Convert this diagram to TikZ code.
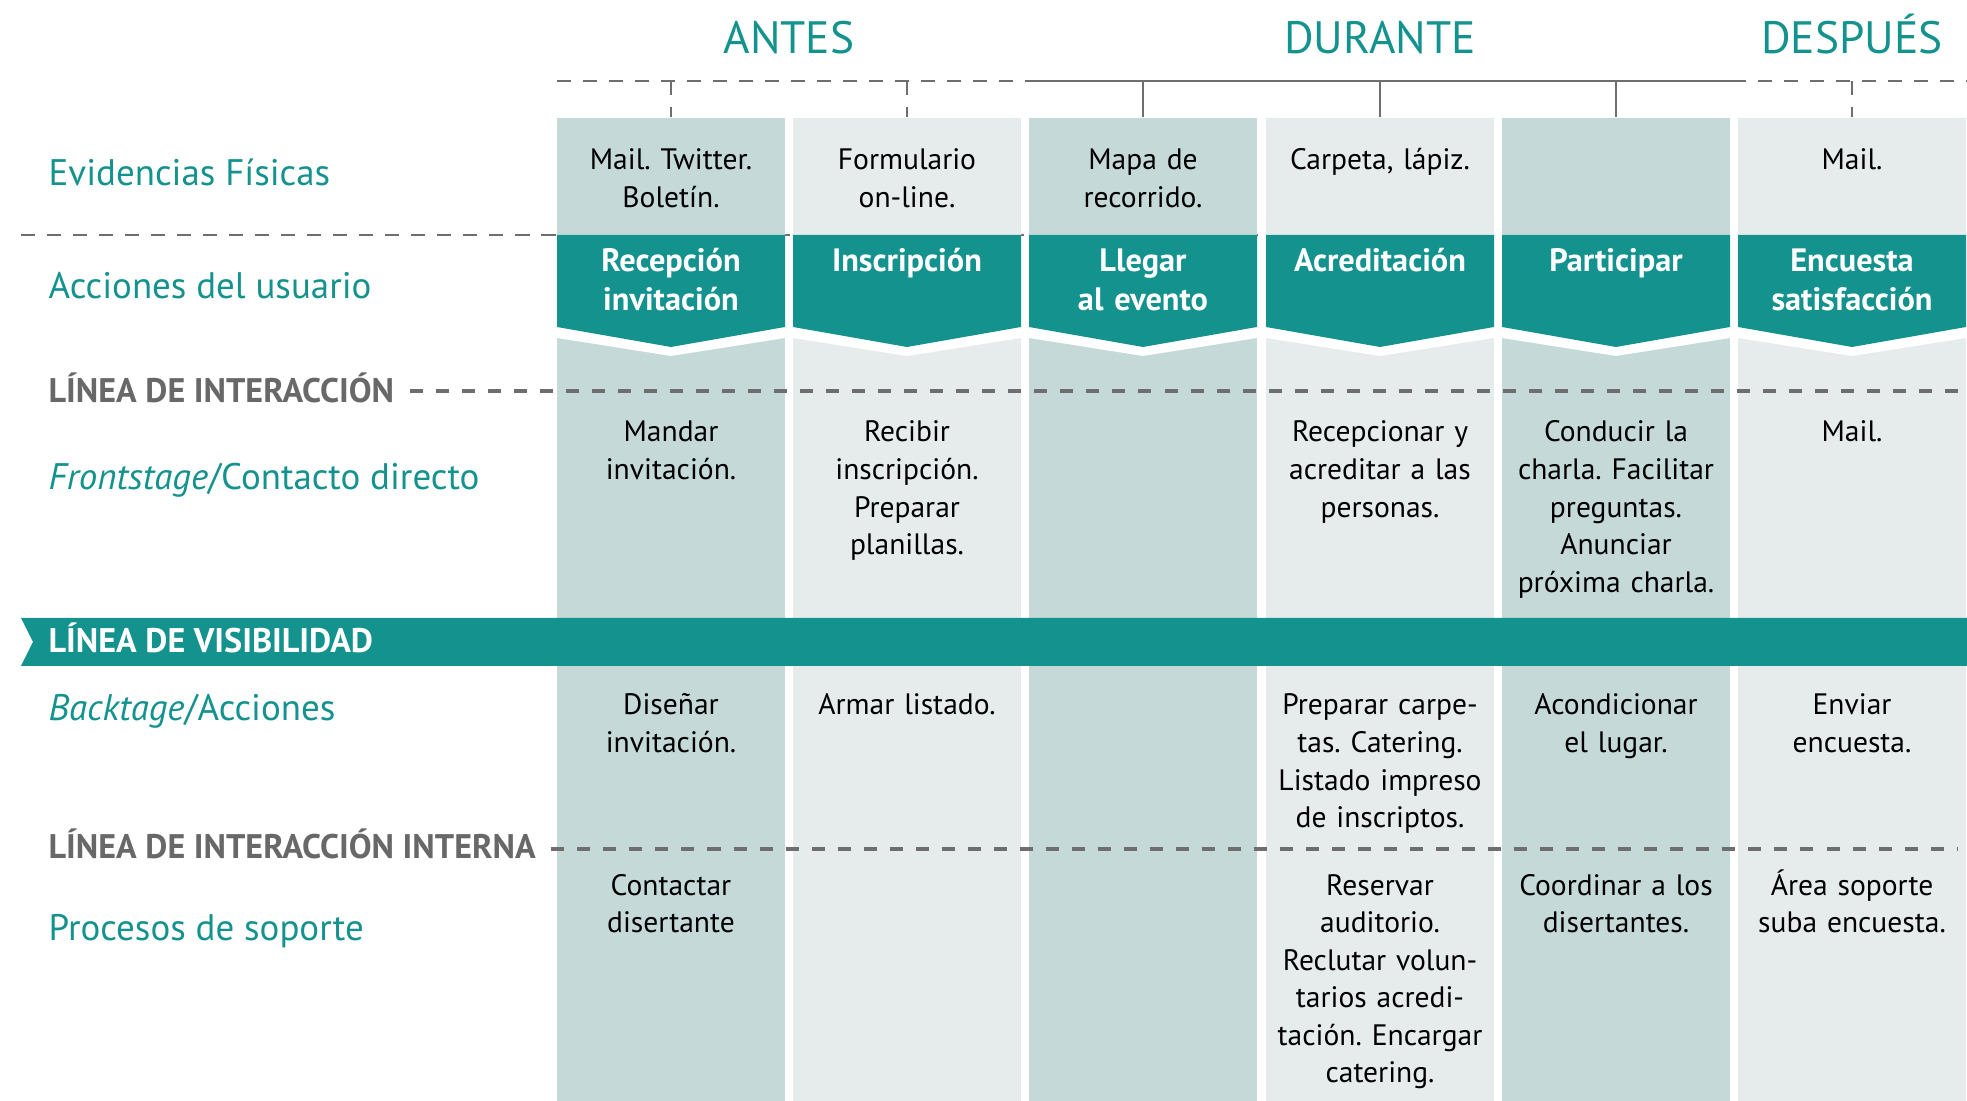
\documentclass[tikz,border=0pt]{standalone}
\usepackage{fontspec}
\setmainfont{PT Sans}
\frenchspacing
\usetikzlibrary{positioning}

\definecolor{tealmain}{RGB}{20,146,142}
\definecolor{coldark}{RGB}{197,217,217}
\definecolor{collight}{RGB}{230,236,236}
\definecolor{linegray}{RGB}{110,110,110}
\definecolor{labelgray}{RGB}{104,104,104}

\tikzset{
  colbox/.style={anchor=north, minimum width=2.28cm, minimum height=9.84cm, inner sep=0pt},
  phase/.style={anchor=base, text=tealmain, inner sep=0pt, font=\fontsize{12.9}{14}\selectfont},
  rowlabel/.style={anchor=base west, text=tealmain, inner sep=0pt, font=\fontsize{10.5}{12}\selectfont},
  linelabel/.style={anchor=base west, text=labelgray, inner sep=0pt, font=\bfseries\fontsize{9.7}{11}\selectfont},
  cell/.style={anchor=base, align=center, text width=2.4cm, inner sep=0pt, font=\fontsize{8.4}{10.67}\selectfont},
  act/.style={anchor=base, align=center, text width=2.4cm, inner sep=0pt, text=white, font=\bfseries\fontsize{9.2}{10.9}\selectfont},
  thindash/.style={draw=linegray, line width=0.6pt, dash pattern=on 4pt off 3.4pt},
  thickdash/.style={draw=linegray, line width=1.3pt, dash pattern=on 3.7pt off 3.7pt},
  tick/.style={draw=linegray, line width=0.6pt}
}

\begin{document}
\begin{tikzpicture}[x=0.01cm, y=-0.01cm]

 \useasboundingbox (0,0) rectangle (1967,1101);

 % separator under the first row, behind the columns
 \path (21,235) coordinate (S0);
 \path (1967,235) coordinate (S1);
 \draw[thindash] (S0) -- (S1);

 \foreach \i/\x/\c in {1/671/coldark,2/907/collight,3/1143/coldark,4/1380/collight,5/1616/coldark,6/1852/collight}
 {
   \node[colbox, fill=\c] (col\i) at (\x,117) {};
   \fill[white] (\x-114,235) -- (\x+114,235) -- (\x+114,338) -- (\x,356) -- (\x-114,338) -- cycle;
   \fill[tealmain] (\x-114,235) -- (\x+114,235) -- (\x+114,327) -- (\x,347) -- (\x-114,327) -- cycle;
   \path (\x,81) coordinate (T\i);
 }

 % time line
 \path (557,81) coordinate (L0);
 \path (1027,81) coordinate (L1);
 \path (1732,81) coordinate (L2);
 \path (1967,81) coordinate (L3);
 \draw[thindash] (L0) -- (L1);
 \draw[tick] (L1) -- (L2);
 \draw[thindash] (L2) -- (L3);
 \foreach \i in {1,2,6}
 {
   \draw[thindash] (T\i) -- (col\i.north);
 }
 \foreach \i in {3,4,5}
 {
   \draw[tick] (T\i) -- (col\i.north);
 }

 \node[phase] (antes) at (789,54) {ANTES};
 \node[phase] (durante) at (1380,54) {DURANTE};
 \node[phase] (despues) at (1852,54) {DESPUÉS};

 % row labels
 \node[rowlabel] (evid) at (48,186) {Evidencias Físicas};
 \node[rowlabel] (accion) at (48,299) {Acciones del usuario};
 \node[linelabel] (inter) at (48,403) {LÍNEA DE INTERACCIÓN};
 \node[rowlabel] (front) at (48,490) {\textit{Frontstage}/Contacto directo};
 \node[rowlabel] (back) at (48,721) {\textit{Backtage}/Acciones};
 \node[linelabel] (interna) at (48,859) {LÍNEA DE INTERACCIÓN INTERNA};
 \node[rowlabel] (soporte) at (48,940) {Procesos de soporte};

 \path (1967,391) coordinate (E1);
 \path (inter.east |- E1) ++(15,0) coordinate (I1);
 \draw[thickdash] (I1) -- (E1);
 \path (1957,849) coordinate (E2);
 \path (interna.east |- E2) ++(15,0) coordinate (I2);
 \draw[thickdash] (I2) -- (E2);

 % line of visibility
 \fill[tealmain] (21,618) -- (1967,618) -- (1967,666) -- (21,666) -- (33,642) -- cycle;
 \node[linelabel, text=white] (visib) at (48,653) {LÍNEA DE VISIBILIDAD};

 % evidencias
 \node[cell] (ev1) at (671,170) {Mail. Twitter.\\Boletín.};
 \node[cell] (ev2) at (907,170) {Formulario\\on-line.};
 \node[cell] (ev3) at (1143,170) {Mapa de\\recorrido.};
 \node[cell] (ev4) at (1380,170) {Carpeta, lápiz.};
 \node[cell] (ev6) at (1852,170) {Mail.};

 % acciones
 \node[act] (ac1) at (671,272) {Recepción\\invitación};
 \node[act] (ac2) at (907,272) {Inscripción};
 \node[act] (ac3) at (1143,272) {Llegar\\al evento};
 \node[act] (ac4) at (1380,272) {Acreditación};
 \node[act] (ac5) at (1616,272) {Participar};
 \node[act] (ac6) at (1852,272) {Encuesta\\satisfacción};

 % frontstage
 \node[cell] (fr1) at (671,442) {Mandar\\invitación.};
 \node[cell] (fr2) at (907,442) {Recibir\\inscripción.\\Preparar\\planillas.};
 \node[cell] (fr4) at (1380,442) {Recepcionar y\\acreditar a las\\personas.};
 \node[cell] (fr5) at (1616,442) {Conducir la\\charla. Facilitar\\preguntas.\\Anunciar\\próxima charla.};
 \node[cell] (fr6) at (1852,442) {Mail.};

 % backstage
 \node[cell] (bk1) at (671,715) {Diseñar\\invitación.};
 \node[cell] (bk2) at (907,715) {Armar listado.};
 \node[cell] (bk4) at (1380,715) {Preparar carpe-\\tas. Catering.\\Listado impreso\\de inscriptos.};
 \node[cell] (bk5) at (1616,715) {Acondicionar\\el lugar.};
 \node[cell] (bk6) at (1852,715) {Enviar\\encuesta.};

 % soporte
 \node[cell] (sp1) at (671,895) {Contactar\\disertante};
 \node[cell] (sp4) at (1380,895) {Reservar\\auditorio.\\Reclutar volun-\\tarios acredi-\\tación. Encargar\\catering.};
 \node[cell] (sp5) at (1616,895) {Coordinar a los\\disertantes.};
 \node[cell] (sp6) at (1852,895) {Área soporte\\suba encuesta.};

\end{tikzpicture}
\end{document}
